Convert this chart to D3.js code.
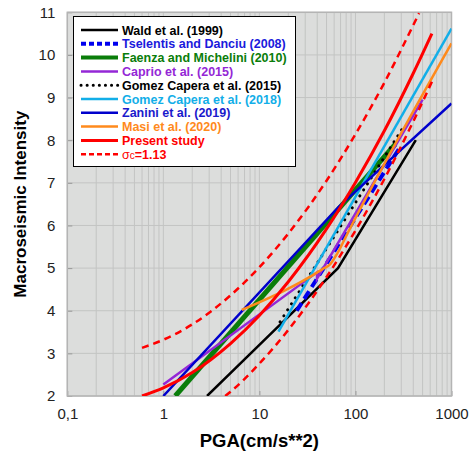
<!DOCTYPE html>
<html>
<head>
<meta charset="utf-8">
<script src="https://cdn.jsdelivr.net/npm/d3@7"></script>
<style>
body{margin:0;background:#fff}
text{font-family:"Liberation Sans",Arial,sans-serif}
</style>
</head>
<body>
<div class="chart"></div>
<script>
// tick values
const xTicks=[0.1,1,10,100,1000]
const xTickLabels=['0,1','1','10','100','1000']
const yTicks=[2,3,4,5,6,7,8,9,10,11]

// series (PGA in cm/s**2, intensity)
const waldPGA=[2.85,10,65.8,425]
const waldMI=[2,3.2,5.0,8.0]
const tselentisPGA=[24.5,290]
const tselentisMI=[4.0,7.83]
const faenzaPGA=[1.33,260]
const faenzaMI=[2,7.91]
const caprioPGA=[1.0,39.8,39.8,500]
const caprioMI=[2.27,4.9,4.75,8.95]
const gomez15PGA=[16.4,316]
const gomez15MI=[3.74,8.31]
const gomez18PGA=[15.8,1000]
const gomez18MI=[3.51,10.62]
const zaniniPGA=[1.0,66.5,1000]
const zaniniMI=[2,6.43,8.86]
const masiPGA=[6.56,45,55,65,80,1000]
const masiMI=[4.02,4.97,5.1,5.35,5.75,10.27]
const presentPGA=[0.6,1,2,5,10,20,50,100,200,400,625]
const presentMI=[2.0,2.19,2.55,3.23,3.89,4.68,5.92,7.01,8.22,9.57,10.5]
const upperPGA=[0.6,1,2,5,10,20,50,100,200,400,460]
const upperMI=[3.13,3.32,3.68,4.36,5.02,5.81,7.05,8.14,9.35,10.70,10.98]
const lowerPGA=[4.4,5,10,20,50,100,200,400,625]
const lowerMI=[2.0,2.10,2.76,3.55,4.79,5.88,7.09,8.44,9.37]

const series=[
	{name:'Wald et al. (1999)',color:'#000000',w:2.5,dash:null,x:waldPGA,y:waldMI,curve:d3.curveLinear},
	{name:'Tselentis and Danciu (2008)',color:'#0000ee',w:4,dash:'9,5',x:tselentisPGA,y:tselentisMI,curve:d3.curveLinear},
	{name:'Faenza and Michelini (2010)',color:'#0a7d0a',w:5,dash:null,x:faenzaPGA,y:faenzaMI,curve:d3.curveLinear},
	{name:'Caprio et al. (2015)',color:'#9427d6',w:2.5,dash:null,x:caprioPGA,y:caprioMI,curve:d3.curveLinear},
	{name:'Gomez Capera et al. (2015)',color:'#000000',w:3,dash:'0.1,7',cap:'round',x:gomez15PGA,y:gomez15MI,curve:d3.curveLinear},
	{name:'Gomez Capera et al. (2018)',color:'#12aee8',w:2.5,dash:null,x:gomez18PGA,y:gomez18MI,curve:d3.curveLinear},
	{name:'Zanini et al. (2019)',color:'#0000cc',w:2.5,dash:null,x:zaniniPGA,y:zaniniMI,curve:d3.curveLinear},
	{name:'Masi et al. (2020)',color:'#ff8a1c',w:2.5,dash:null,x:masiPGA,y:masiMI,curve:d3.curveMonotoneX},
	{name:'Present study',color:'#ff0000',w:3,dash:null,x:presentPGA,y:presentMI,curve:d3.curveMonotoneX},
	{name:'sigma',color:'#ff0000',w:2.5,dash:'7,5',x:upperPGA,y:upperMI,curve:d3.curveMonotoneX},
	{name:null,color:'#ff0000',w:2.5,dash:'7,5',x:lowerPGA,y:lowerMI,curve:d3.curveMonotoneX}
]

const W=473,H=452
const margin={top:12.3,right:21.5,bottom:56,left:67.3}
const width=W-margin.left-margin.right,
	height=H-margin.top-margin.bottom

let xScale=d3.scaleLog()
	.domain([0.1,1000])
	.range([0,width])
let yScale=d3.scaleLinear()
	.domain([2,11])
	.range([height,0])

let svg=d3.select('.chart').append('svg')
	.attr('width',W)
	.attr('height',H)
let g=svg.append('g')
	.attr('transform','translate('+margin.left+','+margin.top+')')

g.append('rect')
	.attr('width',width)
	.attr('height',height)
	.attr('fill','#dcdddc')

// grid
let minor=[]
for(let e=-1;e<3;e++){
	for(let k=1;k<10;k++) minor.push(k*Math.pow(10,e))
}
minor.push(1000)
g.selectAll('.vgrid')
	.data(minor)
	.enter()
	.append('line')
	.attr('x1',d=>xScale(d)).attr('x2',d=>xScale(d))
	.attr('y1',0).attr('y2',height)
	.attr('stroke','#c3c4c3')
	.attr('stroke-width',1)
g.selectAll('.hgrid')
	.data(yTicks)
	.enter()
	.append('line')
	.attr('x1',0).attr('x2',width)
	.attr('y1',d=>yScale(d)).attr('y2',d=>yScale(d))
	.attr('stroke','#c3c4c3')
	.attr('stroke-width',1)

// axes
const xAxis=d3.axisBottom(xScale)
	.tickValues(xTicks)
	.tickFormat((d,i)=>xTickLabels[i])
	.tickSizeInner(-5).tickSizeOuter(0).tickPadding(12)
g.append('g')
	.attr('class','axis x-axis')
	.attr('transform',`translate(0,${height})`)
	.call(xAxis)
const yAxis=d3.axisLeft(yScale)
	.tickValues(yTicks)
	.tickSizeInner(-5).tickSizeOuter(0).tickPadding(12)
g.append('g')
	.attr('class','axis y-axis')
	.call(yAxis)
g.selectAll('.axis path').remove()
g.selectAll('.axis line').attr('stroke','#999')
g.selectAll('.axis text')
	.attr('font-size',15)
	.attr('fill','#222')
	.style('font-family','"Liberation Sans",Arial,sans-serif')

g.append('rect')
	.attr('width',width)
	.attr('height',height)
	.attr('fill','none')
	.attr('stroke','#b4b4b4')
	.attr('stroke-width',1.5)

// curves
g.append('clipPath').attr('id','clip')
	.append('rect').attr('width',width).attr('height',height)

let plot=g.append('g').attr('clip-path','url(#clip)')
series.forEach(s=>{
	let pts=s.x.map((v,i)=>[v,s.y[i]])
	let line=d3.line()
		.x(d=>xScale(d[0]))
		.y(d=>yScale(d[1]))
		.curve(s.curve)
	plot.append('path')
		.datum(pts)
		.attr('d',line)
		.attr('fill','none')
		.attr('stroke',s.color)
		.attr('stroke-width',s.w)
		.attr('stroke-dasharray',s.dash)
		.attr('stroke-linecap',s.cap||'butt')
})

// legend
let lg=svg.append('g')
lg.append('rect')
	.attr('x',73.5).attr('y',16.5)
	.attr('width',222).attr('height',150)
	.attr('fill','#fff')
	.attr('stroke','#000')
	.attr('stroke-width',1)
let items=series.filter(s=>s.name)
items.forEach((s,i)=>{
	let y=30+i*13.8
	lg.append('line')
		.attr('x1',81).attr('x2',118)
		.attr('y1',y).attr('y2',y)
		.attr('stroke',s.color)
		.attr('stroke-width',Math.min(s.w,4))
		.attr('stroke-dasharray',s.dash=='9,5'?'5,3':s.dash=='7,5'?'5,3':s.dash=='0.1,7'?'0.1,6':null)
		.attr('stroke-linecap',s.cap||'butt')
	let t=lg.append('text')
		.attr('x',122).attr('y',y+4.5)
		.attr('font-size',12.5)
		.attr('font-weight','bold')
		.attr('fill',s.color=='#0000ee'?'#1a1adc':s.color=='#0000cc'?'#1a1acc':s.color)
	if(s.name=='sigma'){
		t.append('tspan').attr('font-weight','normal').text('σ')
		t.append('tspan').attr('font-weight','normal').attr('font-size',10).text('c')
		t.append('tspan').text('=1.13')
	} else {
		t.text(s.name)
	}
})

// titles
svg.append('text')
	.attr('x',margin.left+width/2)
	.attr('y',447)
	.attr('text-anchor','middle')
	.attr('font-size',18.5)
	.attr('font-weight','bold')
	.text('PGA(cm/s**2)')
svg.append('text')
	.attr('transform','translate(26,'+(margin.top+height/2)+') rotate(-90)')
	.attr('text-anchor','middle')
	.attr('font-size',17)
	.attr('font-weight','bold')
	.text('Macroseismic Intensity')
</script>
</body>
</html>
